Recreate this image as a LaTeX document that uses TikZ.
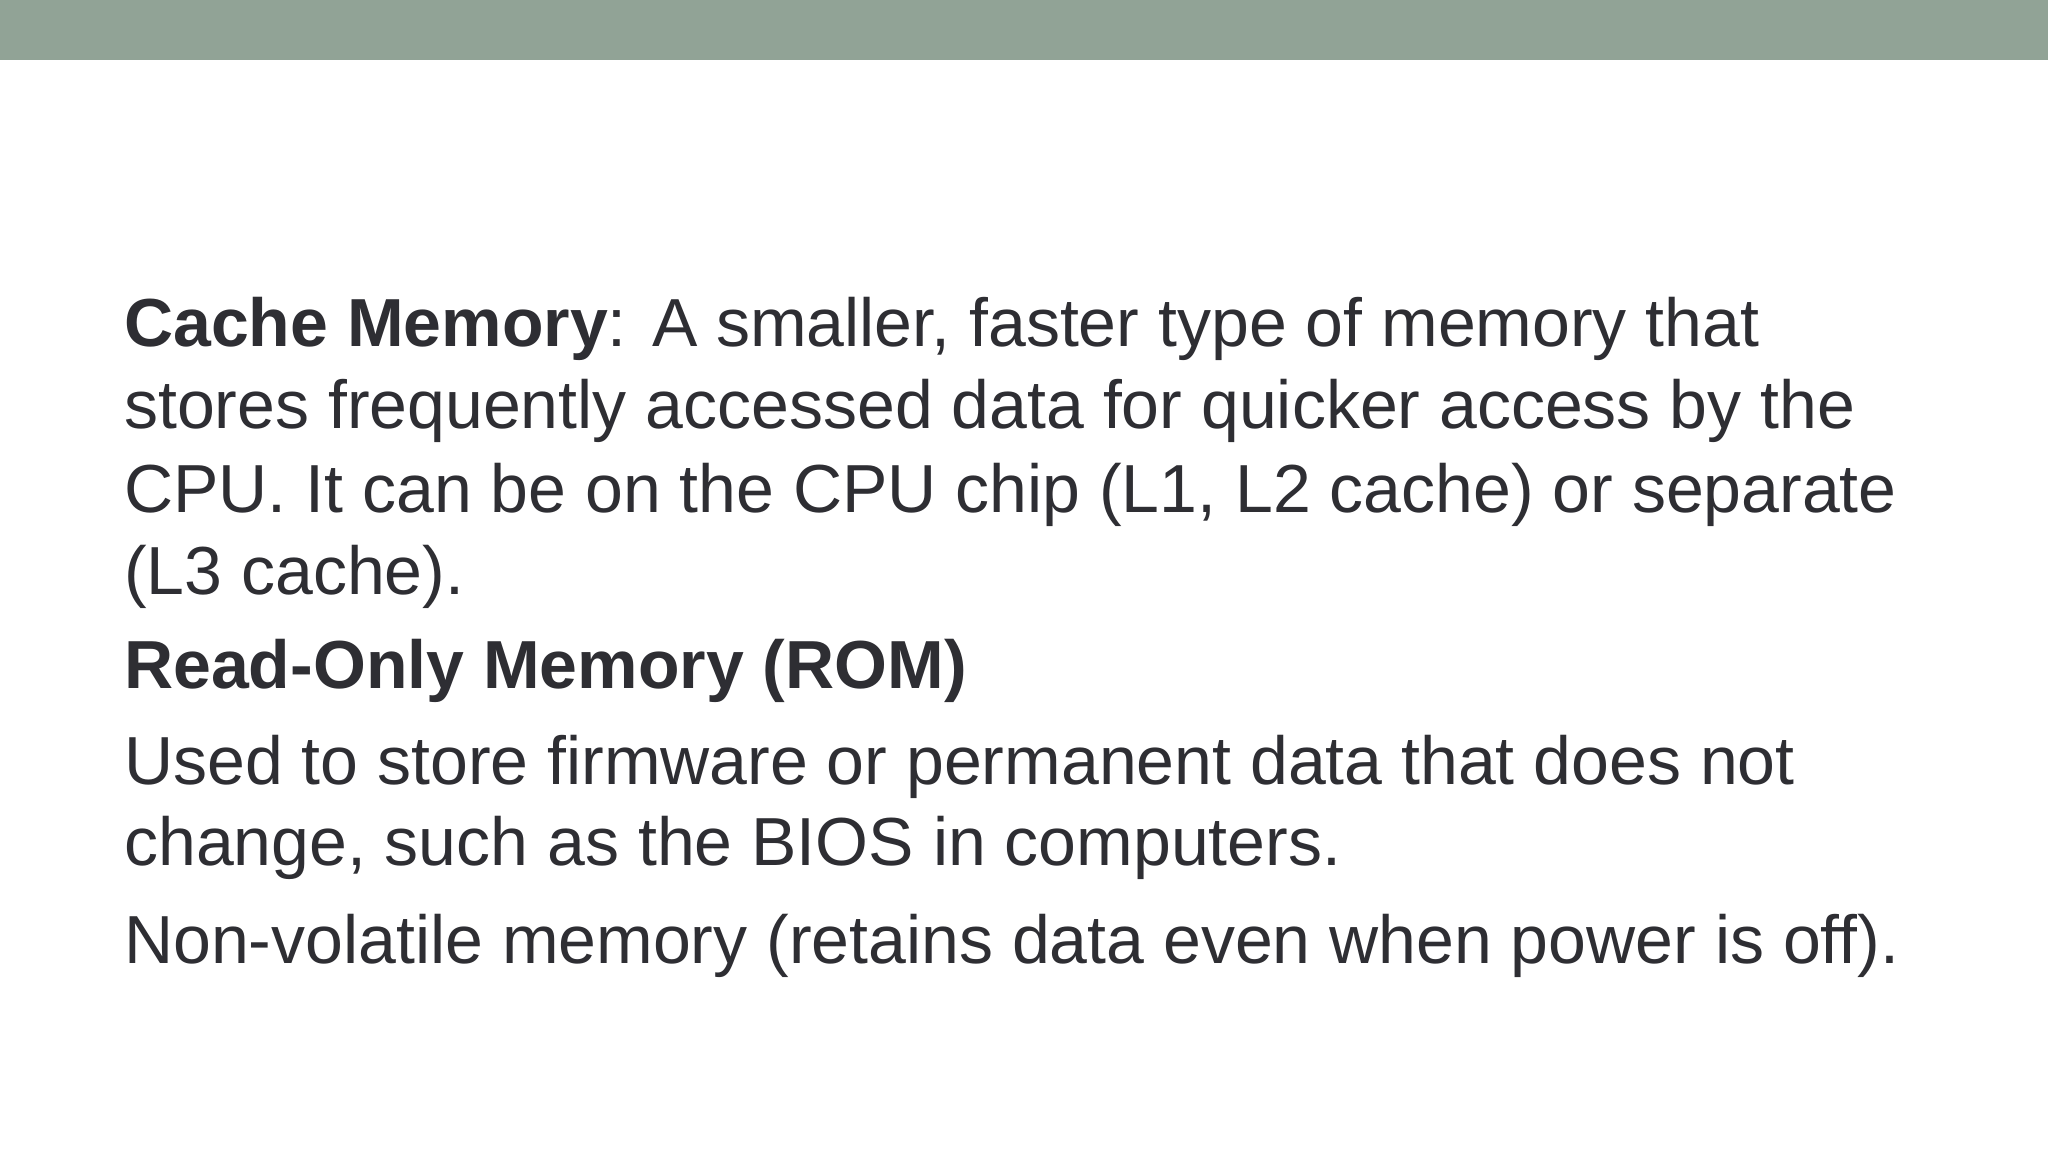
\documentclass[tikz,border=0pt]{standalone}
\usepackage{fontspec}
\setmainfont{Liberation Sans}
\definecolor{bar}{HTML}{91A396}
\definecolor{txt}{HTML}{2E2E33}
\begin{document}
\begin{tikzpicture}[x=1pt,y=-1pt,
  ln/.style={anchor=base west,inner sep=0pt,text=txt,font=\fontsize{68}{80}\selectfont}]
\useasboundingbox (0,0) rectangle (2048,1152);
\fill[white] (0,0) rectangle (2048,1152);
\fill[bar] (0,0) rectangle (2048,60);
\node[ln] (l1) at (124,346) {\textbf{Cache Memory}: A smaller, faster type of memory that};
\node[ln] (l2) at (124,428) {stores frequently accessed data for quicker access by the};
\node[ln] (l3) at (124,512) {CPU. It can be on the CPU chip (L1, L2 cache) or separate};
\node[ln] (l4) at (124,594) {(L3 cache).};
\node[ln] (l5) at (124,688) {\textbf{Read-Only Memory (ROM)}};
\node[ln] (l6) at (124,784) {Used to store firmware or permanent data that does not};
\node[ln] (l7) at (124,865) {change, such as the BIOS in computers.};
\node[ln] (l8) at (124,963) {Non-volatile memory (retains data even when power is off).};
\end{tikzpicture}
\end{document}
